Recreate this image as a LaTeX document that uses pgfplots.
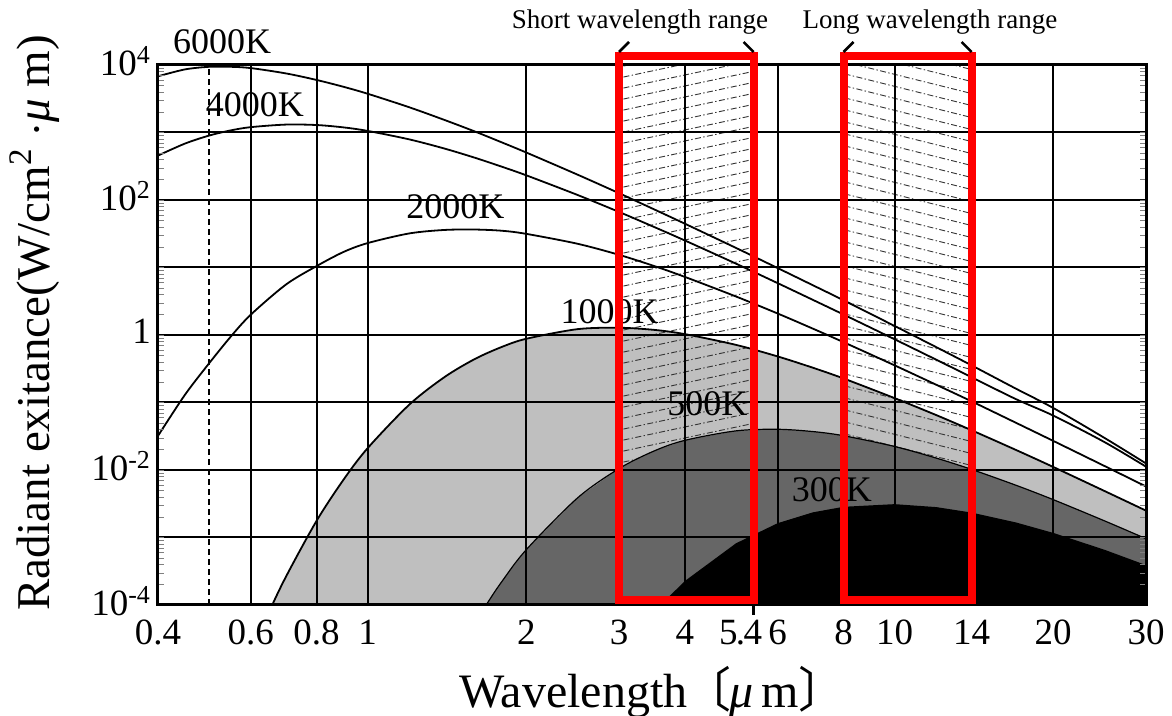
\documentclass[border=0pt]{standalone}
\usepackage{pgfplots}
\pgfplotsset{compat=1.18}
\usepackage{fontspec}
\setmainfont{Liberation Serif}
\newfontfamily\cjk{Noto Sans CJK JP}

\tikzset{
  hatch/.style={black!80, line width=0.45pt, dash pattern=on 3pt off 1.2pt on 0.7pt off 1.2pt},
  curvelabel/.style={font=\fontsize{18}{20}\selectfont, inner sep=0pt},
}

\begin{document}
\begin{tikzpicture}
\path[use as bounding box] (-79pt,-55.5pt) rectangle (507pt,302.5pt);
\begin{axis}[
  at={(0,0)}, anchor=south west,
  scale only axis, width=494pt, height=270pt,
  xmode=log, ymode=log,
  xmin=0.4, xmax=30, ymin=1e-4, ymax=1e4,
  log origin y=infty,
  axis on top,
  xtick={0.4,0.6,0.8,1,2,3,4,6,8,10,14,20,30},
  xticklabels={0.4,0.6,0.8,1,2,3,4,6,8,10,14,20,30},
  extra x ticks={5.4},
  extra x tick labels={5\kern-0.8pt.\kern-0.8pt4},
  extra x tick style={xticklabel style={xshift=-6.5pt}},
  ytick={1e-4,1e-3,1e-2,1e-1,1,1e1,1e2,1e3,1e4},
  yticklabels={10\textsuperscript{-4},{},10\textsuperscript{-2},{},1,{},10\textsuperscript{2},{},10\textsuperscript{4}},
  minor xtick={}, minor ytick={},
  major tick length=0pt,
  grid=major,
  grid style={black, line width=1pt},
  axis line style={line width=1.5pt},
  tick label style={font=\fontsize{18.5}{20}\selectfont},
  xticklabel style={yshift=-4pt},
  yticklabel style={yshift=2pt},
  xlabel={Wavelength\kern-2pt{\cjk 〔}\kern-1pt\textit{μ}\,m{\cjk 〕}},
  ylabel={Radiant exitance(W/cm\textsuperscript{2} $\cdot$\textit{μ} m)},
  label style={font=\fontsize{23.5}{26}\selectfont},
  x label style={font=\fontsize{24}{26}\selectfont, at={(axis description cs:0.501,-0.161)}, anchor=center},
  y label style={at={(axis description cs:-0.1245,0.522)}, anchor=center},
]

% 1000 K area
\addplot[draw=none, fill=black!25] coordinates {
 (0.6,1.85e-5) (0.65,7.9e-5) (0.7,2.64e-4) (0.8,1.77e-3) (0.9,7.2e-3) (1,0.0211)
 (1.2,0.0933) (1.4,0.239) (1.6,0.444) (1.8,0.669) (2,0.879) (2.5,1.22) (3,1.28)
 (3.5,1.19) (4,1.03) (5,0.714) (6,0.481) (7,0.327) (8,0.227) (10,0.116) (12,0.065)
 (14,0.0388) (17,0.0198) (20,0.0111) (25,0.0049) (30,0.0025)} \closedcycle;

% hatching of the short wavelength range (3-5.4 um)
\begin{scope}
  \clip (axis cs:3,1e-4) rectangle (axis cs:5.4,1e4);
  \pgfplotsinvokeforeach{-20,...,55}{
    \draw[hatch, yshift=#1*5.5pt] (rel axis cs:0,0) -- (rel axis cs:1,0.389);
  }
\end{scope}
% hatching of the long wavelength range (8-14 um)
\begin{scope}
  \clip (axis cs:8,1e-4) rectangle (axis cs:14,1e4);
  \pgfplotsinvokeforeach{-10,...,50}{
    \draw[hatch, yshift=#1*6pt] (rel axis cs:0,0.456) -- (rel axis cs:1,0);
  }
\end{scope}

% 500 K area
\addplot[draw=none, fill=black!60] coordinates {
 (1.6,5.5e-5) (1.7,1.17e-4) (1.8,2.26e-4) (2,6.6e-4) (2.5,3.84e-3) (3,0.0105)
 (3.5,0.0192) (4,0.0275) (5,0.038) (6,0.0401) (7,0.0371) (8,0.0322) (10,0.0223)
 (12,0.015) (14,0.0102) (17,0.00594) (20,0.00364) (25,0.00177) (30,9.6e-4)} \closedcycle;

% 300 K area
\addplot[draw=none, fill=black] coordinates {
 (3.4,6.2e-5) (3.6,1.01e-4) (4,2.27e-4) (5,8.2e-4) (6,1.63e-3) (7,2.36e-3)
 (8,2.85e-3) (10,3.12e-3) (12,2.82e-3) (14,2.34e-3) (17,1.67e-3) (20,1.17e-3)
 (25,6.6e-4) (30,3.9e-4)} \closedcycle;

% curve outlines
\addplot[black, line width=0.6pt, smooth] coordinates {
 (1.6,5.5e-5) (1.7,1.17e-4) (1.8,2.26e-4) (2,6.6e-4) (2.5,3.84e-3) (3,0.0105)
 (3.5,0.0192) (4,0.0275) (5,0.038) (6,0.0401) (7,0.0371) (8,0.0322) (10,0.0223)
 (12,0.015) (14,0.0102) (17,0.00594) (20,0.00364) (25,0.00177) (30,9.6e-4)};
\addplot[black, line width=0.9pt, smooth] coordinates {
 (0.6,1.85e-5) (0.65,7.9e-5) (0.7,2.64e-4) (0.8,1.77e-3) (0.9,7.2e-3) (1,0.0211)
 (1.2,0.0933) (1.4,0.239) (1.6,0.444) (1.8,0.669) (2,0.879) (2.5,1.22) (3,1.28)
 (3.5,1.19) (4,1.03) (5,0.714) (6,0.481) (7,0.327) (8,0.227) (10,0.116) (12,0.065)
 (14,0.0388) (17,0.0198) (20,0.0111) (25,0.0049) (30,0.0025)};
% 2000 K
\addplot[black, line width=0.9pt, smooth] coordinates {
 (0.4,0.032) (0.45,0.13) (0.5,0.38) (0.55,0.95) (0.6,2.0) (0.7,5.6) (0.8,10.5)
 (0.9,17) (1,23) (1.2,32) (1.4,36) (1.6,36.5) (1.8,35) (2,31.5) (2.5,22.5) (3,15.4)
 (3.5,10.5) (4,7.25) (5,3.72) (6,2.08) (7,1.24) (8,0.783) (10,0.355) (12,0.183)
 (14,0.104) (17,0.05) (20,0.027) (25,0.0115) (30,0.0057)};
% 4000 K
\addplot[black, line width=0.9pt, smooth] coordinates {
 (0.4,455) (0.45,685) (0.5,900) (0.55,1075) (0.6,1200) (0.7,1310) (0.8,1290)
 (0.9,1190) (1,1055) (1.2,790) (1.4,577) (1.6,421) (1.8,310) (2,232) (2.5,119)
 (3,66.5) (3.5,39.7) (4,25.1) (5,11.4) (6,5.86) (7,3.31) (8,2.01) (10,0.864)
 (12,0.43) (14,0.237) (17,0.112) (20,0.064) (25,0.026) (30,0.0112)};
% 6000 K
\addplot[black, line width=0.9pt, smooth] coordinates {
 (0.4,6800) (0.45,8600) (0.5,9400) (0.55,9400) (0.6,9000) (0.7,7500) (0.8,6000)
 (0.9,4750) (1,3750) (1.2,2360) (1.4,1530) (1.6,1030) (1.8,710) (2,505) (2.5,238)
 (3,126) (3.5,72.4) (4,44.5) (5,19.5) (6,9.8) (7,5.45) (8,3.27) (10,1.36)
 (12,0.66) (14,0.355) (17,0.16) (20,0.083) (25,0.03) (30,0.0125)};

% 0.5 um reference line
\addplot[black, line width=0.7pt, dash pattern=on 3pt off 2pt] coordinates {(0.5,1e-4) (0.5,1e4)};

\node[curvelabel] at (rel axis cs:0.098,0.926) {4000K};
\node[curvelabel] at (rel axis cs:0.301,0.738) {2000K};
\node[curvelabel] at (rel axis cs:0.457,0.543) {1000K};
\node[curvelabel] at (rel axis cs:0.556,0.372) {500K};
\node[curvelabel] at (rel axis cs:0.682,0.213) {300K};

\coordinate (sA) at (axis cs:3,1e-4);
\coordinate (sB) at (axis cs:5.4,1e4);
\coordinate (lA) at (axis cs:8,1e-4);
\coordinate (lB) at (axis cs:14,1e4);
\coordinate (t54) at (axis cs:5.4,1e-4);
\end{axis}

% band frames
\draw[red, line width=4pt] ([yshift=2.5pt]sA) rectangle ([yshift=4.5pt]sB);
\draw[red, line width=4pt] ([yshift=2.5pt]lA) rectangle ([yshift=4.5pt]lB);
\draw[line width=1.3pt] ([yshift=6.5pt]sA |- sB) -- ++(5pt,5pt);
\draw[line width=1.3pt] ([yshift=6.5pt]sB) -- ++(-5pt,5pt);
\draw[line width=1.3pt] ([yshift=6.5pt]lA |- lB) -- ++(5pt,5pt);
\draw[line width=1.3pt] ([yshift=6.5pt]lB) -- ++(-5pt,5pt);
\draw[line width=1.2pt] (t54) -- ++(0,-5pt);

\node[font=\fontsize{13.5}{15}\selectfont] at (241pt,291.5pt) {Short wavelength range};
\node[font=\fontsize{13.5}{15}\selectfont] at (386pt,291.5pt) {Long wavelength range};
\node[curvelabel] at (32pt,281.5pt) {6000K};
\end{tikzpicture}
\end{document}
